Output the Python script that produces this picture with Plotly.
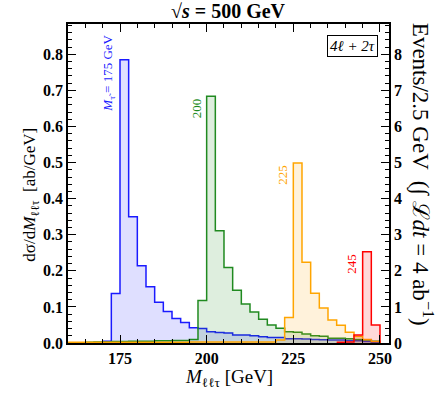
import plotly.graph_objects as go

# bin edges (2.5 GeV) and per-bin values in ab/GeV
blue_edges = [170, 172.5, 175, 177.5, 180, 182.5, 185, 187.5, 190, 192.5, 195, 197.5, 200,
              202.5, 205, 207.5, 210, 212.5, 215, 217.5, 220, 222.5, 225, 227.5, 230,
              232.5, 235, 237.5, 240, 242.5, 245, 247.5, 250]
blue_vals = [0.005, 0.137, 0.785, 0.35, 0.214, 0.156, 0.113, 0.087, 0.068, 0.057, 0.042, 0.040,
             0.031, 0.029, 0.028, 0.022, 0.022, 0.020, 0.017, 0.015, 0.015, 0.012, 0.012, 0.011,
             0.010, 0.009, 0.008, 0.008, 0.007, 0.006, 0.004, 0.002]

green_edges = [165, 167.5, 170, 172.5, 175, 177.5, 180, 182.5, 185, 187.5, 190, 192.5, 195,
               197.5, 200, 202.5, 205, 207.5, 210, 212.5, 215, 217.5, 220, 222.5, 225, 227.5,
               230, 232.5, 235, 237.5, 240, 242.5, 245, 247.5, 250]
green_vals = [0.002, 0.003, 0.003, 0.004, 0.004, 0.005, 0.005, 0.005, 0.006, 0.006, 0.007,
              0.007, 0.010, 0.118, 0.684, 0.311, 0.209, 0.146, 0.108, 0.086, 0.066, 0.050,
              0.041, 0.031, 0.030, 0.025, 0.020, 0.019, 0.013, 0.013, 0.012, 0.010, 0.008, 0.005]

orange_edges = [160, 162.5, 165, 167.5, 170, 172.5, 175, 177.5, 180, 182.5, 185, 187.5, 190,
                192.5, 195, 197.5, 200, 202.5, 205, 207.5, 210, 212.5, 215, 217.5, 220, 222.5,
                225, 227.5, 230, 232.5, 235, 237.5, 240, 242.5, 245, 247.5, 250]
orange_vals = [0.002, 0.002, 0.002, 0.002, 0.002, 0.002, 0.002, 0.002, 0.002, 0.002, 0.002,
               0.002, 0.002, 0.002, 0.003, 0.003, 0.003, 0.003, 0.003, 0.003, 0.003, 0.003,
               0.003, 0.003, 0.008, 0.071, 0.499, 0.224, 0.138, 0.097, 0.064, 0.049, 0.030,
               0.018, 0.010, 0.004]

red_edges = [237.5, 240, 242.5, 245, 247.5, 250]
red_vals = [0.002, 0.003, 0.022, 0.253, 0.050]

series = [
    (blue_edges, blue_vals, "#1a1aff", "rgba(40,40,255,0.15)"),
    (green_edges, green_vals, "#208a20", "rgba(34,139,34,0.15)"),
    (orange_edges, orange_vals, "orange", "rgba(255,165,0,0.14)"),
    (red_edges, red_vals, "red", "rgba(255,0,0,0.15)"),
]

fig = go.Figure()
for edges, vals, lc, fc in series:
    fig.add_trace(go.Scatter(
        x=edges, y=vals + [0], mode="lines", line=dict(shape="hv", color=lc, width=1.5),
        fill="tozeroy", fillcolor=fc, showlegend=False, hoverinfo="skip"))

# empty trace to carry the right axis (events = 10 x ab/GeV for 4 ab^-1 and 2.5 GeV bins)
fig.add_trace(go.Scatter(x=[None], y=[None], yaxis="y2", showlegend=False))

serif = "Liberation Serif"
tickfont = dict(family=serif, size=16, color="black", weight="bold")

# mass labels next to each peak
lab_text = ["<i>M</i><sub>τ̃</sub> = 175 GeV", "200", "225", "245"]
lab_col = ["#1a1aff", "#208a20", "orange", "red"]
lab_x = [175, 200, 225, 245]
lab_y = [0.86, 0.684, 0.499, 0.253]
for t, c, x, y in zip(lab_text, lab_col, lab_x, lab_y):
    fig.add_annotation(x=x, y=y, text=t, textangle=-90, showarrow=False, xanchor="right",
                       yanchor="top", xshift=-1, font=dict(family=serif, size=13, color=c))

fig.add_annotation(xref="paper", yref="paper", x=0.965, y=0.965, xanchor="right", yanchor="top",
                   text="<i>4ℓ + 2τ</i>", showarrow=False, bordercolor="black", borderwidth=1,
                   borderpad=2, bgcolor="white", font=dict(family=serif, size=15, color="black"))

fig.add_annotation(xref="paper", yref="paper", x=0.5, y=1.0, xanchor="center", yanchor="bottom",
                   text="√<i>s</i> = 500 GeV", showarrow=False,
                   font=dict(family=serif, size=20, color="black", weight="bold"))
fig.add_annotation(xref="paper", yref="paper", x=0.5, y=-0.11, xanchor="center",
                   yanchor="middle", text="<i>M</i><sub>ℓℓτ</sub> [GeV]", showarrow=False,
                   font=dict(family=serif, size=19, color="black"))
fig.add_annotation(xref="paper", yref="paper", x=-0.115, y=0.465, xanchor="center",
                   yanchor="middle", textangle=-90,
                   text="dσ/d<i>M</i><sub>ℓℓτ</sub>  [ab/GeV]", showarrow=False,
                   font=dict(family=serif, size=17, color="black"))
fig.add_annotation(xref="paper", yref="paper", x=1.1, y=0.53, xanchor="center",
                   yanchor="middle", textangle=90,
                   text="Events/2.5 GeV  (∫ ℒ<i>dt</i> = 4 ab<sup>−1</sup>)", showarrow=False,
                   font=dict(family=serif, size=23, color="black"))

axis_common = dict(showline=True, linecolor="black", linewidth=1.5, showgrid=False,
                   zeroline=False, ticks="inside", tickcolor="black", ticklen=8, tickwidth=1,
                   tickfont=tickfont)

fig.update_layout(
    width=436, height=395,
    margin=dict(l=68, r=47, t=24, b=52),
    plot_bgcolor="white", paper_bgcolor="white",
    xaxis=dict(range=[160, 252.6], tickvals=[175, 200, 225, 250], mirror="ticks",
               minor=dict(dtick=5, tick0=0, ticks="inside", ticklen=4, tickcolor="black"),
               **axis_common),
    yaxis=dict(range=[0, 0.884], dtick=0.1, tickformat=".1f", mirror=True,
               minor=dict(dtick=0.02, ticks="inside", ticklen=4, tickcolor="black"),
               **axis_common),
    yaxis2=dict(range=[0, 8.84], dtick=1, overlaying="y", side="right",
                minor=dict(dtick=0.2, ticks="inside", ticklen=4, tickcolor="black"),
                **axis_common),
)

# drop the default page margin so the figure sits at the window's top-left corner
fig.write_html("out.html", config={"displayModeBar": False},
               post_script="document.body.style.margin='0';")
